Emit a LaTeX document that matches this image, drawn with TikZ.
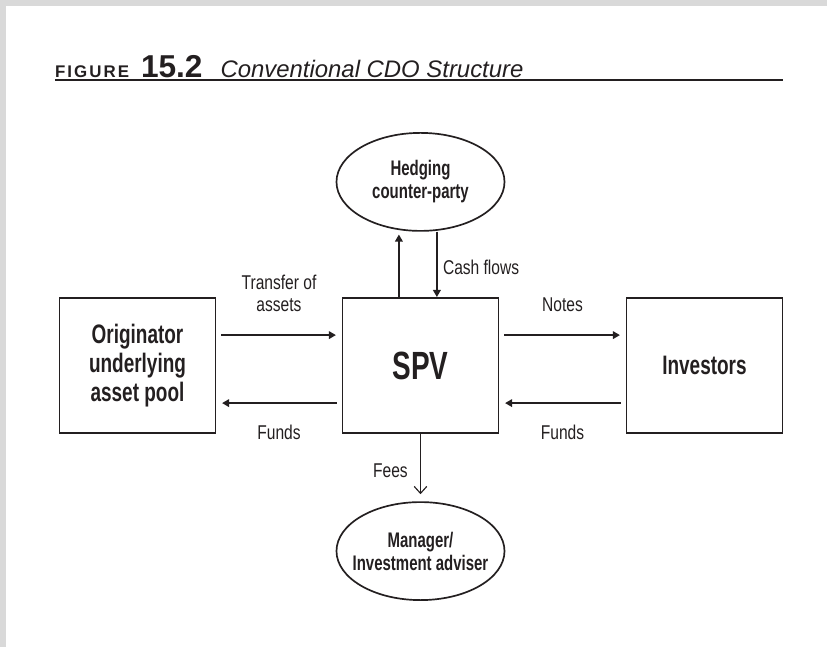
\documentclass[tikz,border=0pt]{standalone}
\usepackage{fontspec}
\usepackage{tikz}
\usetikzlibrary{arrows.meta,positioning,shapes.geometric,calc}
\setmainfont{Liberation Sans}
\newfontfamily\lblfont{Liberation Sans}[FakeStretch=0.78]
\newfontfamily\boxfont{Liberation Sans}[FakeStretch=0.71]
\definecolor{frameGray}{RGB}{217,217,217}
\definecolor{inkBlack}{RGB}{35,31,32}
\tikzset{
    every node/.append style={align=center,text=inkBlack},
    box/.style={rectangle,draw=inkBlack,line width=1.4pt,minimum width=3.9cm,minimum height=3.375cm,
        font=\boxfont\bfseries\fontsize{19}{20.5}\selectfont},
    party/.style={ellipse,draw=inkBlack,line width=1.2pt,minimum width=4.2cm,minimum height=2.45cm,
        inner sep=0pt,inner xsep=-10pt,font=\boxfont\bfseries\fontsize{15}{16.3}\selectfont},
    arr/.style={-{Triangle[length=5pt,width=5.5pt]},line width=1pt,draw=inkBlack},
    hflow/.style={arr,shorten <=3.5pt,shorten >=4pt},
    oarr/.style={-{Straight Barb[length=5pt,width=9pt]},line width=0.8pt,draw=inkBlack},
    lbl/.style={font=\lblfont\fontsize{14.2}{16.3}\selectfont,inner sep=1pt},
    rule/.style={line width=1.3pt,draw=inkBlack}
}

\begin{document}
\begin{tikzpicture}
    \useasboundingbox (-10.5125,-7.0375) rectangle (10.1625,9.1375);
    % page frame
    \fill[frameGray] (-10.5125,8.99) rectangle (10.1625,9.1375);
    \fill[frameGray] (-10.5125,-7.0375) rectangle (-10.3625,9.1375);

    % caption
    \node[anchor=base west,inner sep=0pt] (title) at (-9.14,7.2)
        {{\bfseries\addfontfeature{LetterSpace=12}\fontsize{12}{12}\selectfont FIGURE}\hspace{0.3cm}%
         {\bfseries\fontsize{22.5}{22.5}\selectfont 15.2}\hspace{0.45cm}%
         {\itshape\fontsize{17}{17}\selectfont Conventional CDO Structure}};

    % parties
    \node[box] (orig) at (-7.075,0) {Originator\\underlying\\asset pool};
    \node[box,font=\boxfont\bfseries\fontsize{28}{28}\selectfont] (spv) at (0,0) {SPV};
    \node[box] (inv) at (7.1,0) {Investors};
    \node[party] (hedge) at (0,4.59) {Hedging\\counter-party};
    \node[party] (mgr) at (0,-4.64) {Manager/\\Investment adviser};

    \draw[rule] ([yshift=-1.5pt]title.base west) -- ([yshift=-1.5pt]title.base west -| inv.east);

    \coordinate (upFoot) at ([xshift=-0.54cm]spv.north);
    \coordinate (cashFoot) at ([xshift=0.41cm]spv.north);

    % flows
    \draw[hflow] ([yshift=0.76cm]orig.east) -- node[lbl,above=0.52cm]{Transfer of\\assets} ([yshift=0.76cm]spv.west);
    \draw[hflow] ([yshift=-0.94cm]spv.west) -- node[lbl,below=0.5cm]{Funds} ([yshift=-0.94cm]orig.east);
    \draw[hflow] ([yshift=0.76cm]spv.east) -- node[lbl,above=0.52cm]{Notes} ([yshift=0.76cm]inv.west);
    \draw[hflow] ([yshift=-0.94cm]inv.west) -- node[lbl,below=0.5cm]{Funds} ([yshift=-0.94cm]spv.east);
    \draw[arr,shorten >=2pt] (upFoot) -- (upFoot |- hedge.south);
    \draw[arr] (cashFoot |- hedge.south) -- node[lbl,right=0.1cm,pos=0.55]{Cash flows} (cashFoot);
    \draw[oarr,shorten >=5pt] (spv.south) -- node[lbl,left=0.27cm,pos=0.55]{Fees} (mgr.north);
\end{tikzpicture}
\end{document}
